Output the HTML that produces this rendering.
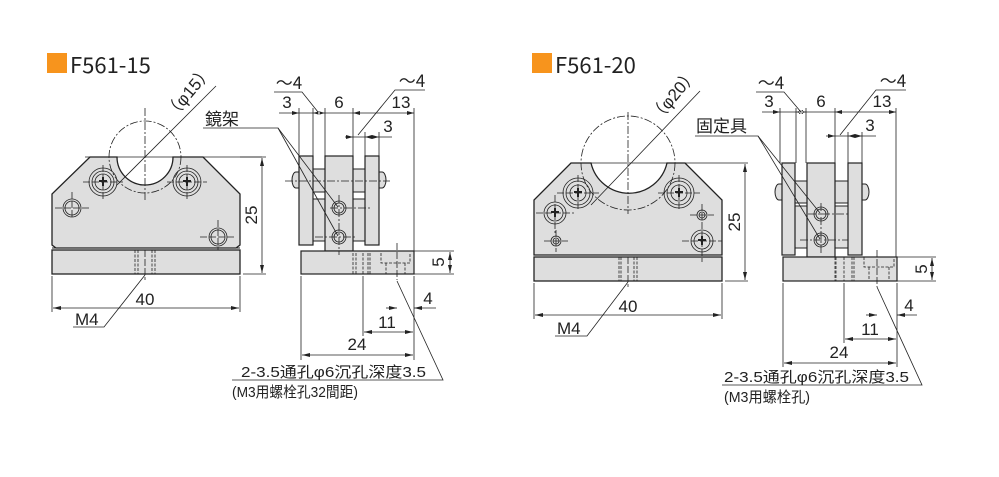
<!DOCTYPE html>
<html><head><meta charset="utf-8"><style>
html,body{margin:0;padding:0;background:#fff;}
svg{display:block;}
text{font-family:"Liberation Sans","Noto Sans CJK SC",sans-serif;fill:#222;}
.c{font-family:"Noto Sans CJK SC",sans-serif;}
</style></head><body>
<svg width="999" height="477" viewBox="0 0 999 477" xmlns="http://www.w3.org/2000/svg">
<defs>
<marker id="a" viewBox="0 0 8 4" refX="8" refY="2" markerWidth="8" markerHeight="4" markerUnits="userSpaceOnUse" orient="auto-start-reverse"><path d="M0,0L8,2L0,4z" fill="#222"/></marker>
</defs>
<g stroke="#222" stroke-width="1" fill="none">

<!-- ===== LEFT: F561-15 ===== -->
<rect x="47" y="53" width="20" height="20" fill="#f7941d" stroke="none"/>
<path d="M90,157 L117,157 A28,28 0 0 0 173,157 L203,157 L240,194 L240,245 L236,248 L56,248 L52,245 L52,194 Z" fill="#dedede" stroke-width="1.3"/>
<rect x="52" y="250" width="188" height="24" fill="#dedede" stroke-width="1.3"/>
<line x1="52" y1="248" x2="240" y2="248"/>
<circle cx="145" cy="157" r="36" stroke-dasharray="8,2,2,2" stroke-width="0.8"/>
<line x1="145" y1="108" x2="145" y2="202" stroke-dasharray="8,2,2,2" stroke-width="0.8"/>
<line x1="85" y1="157" x2="262" y2="157" stroke-width="0.8"/>
<g stroke-width="0.8">
<circle cx="103" cy="182" r="14"/><circle cx="103" cy="182" r="11"/><circle cx="103" cy="182" r="8"/>
<circle cx="187" cy="182" r="14"/><circle cx="187" cy="182" r="11"/><circle cx="187" cy="182" r="8"/>
<path d="M99,181h8M103,177v9M183,181h8M187,177v9" stroke-width="2"/>
<circle cx="72" cy="208" r="9"/><circle cx="72" cy="208" r="7"/>
<circle cx="218" cy="237" r="9"/><circle cx="218" cy="237" r="7"/>
<path d="M83,182h40M103,165v35M167,182h40M187,165v35M55,208h35M72,192v25M200,237h35M218,220v30" stroke-dasharray="7,2"/>
<path d="M135,250v24M138,250v24M152,250v24M155,250v24" stroke-dasharray="3,1.5"/>
<line x1="145" y1="250" x2="145" y2="280" stroke-dasharray="7,2"/>
</g>
<line x1="240" y1="157" x2="266" y2="157" stroke-width="0.8"/>
<line x1="243" y1="274" x2="266" y2="274" stroke-width="0.8"/>
<line x1="262" y1="158" x2="262" y2="273" marker-start="url(#a)" marker-end="url(#a)" stroke-width="0.8"/>
<line x1="52" y1="276" x2="52" y2="312" stroke-width="0.8"/>
<line x1="240" y1="276" x2="240" y2="312" stroke-width="0.8"/>
<line x1="53" y1="308" x2="239" y2="308" marker-start="url(#a)" marker-end="url(#a)" stroke-width="0.8"/>
<polyline points="145,275 104,327 73,327" stroke-width="0.8"/>
<line x1="117" y1="185" x2="216" y2="86" stroke-width="0.8"/>

<rect x="313" y="169" width="52" height="23" fill="#dedede" stroke-width="1"/>
<path d="M299,172 h-3 a4,8 0 0 0 0,16 h3 M379,172 h3 a4,8 0 0 1 0,16 h-3" fill="#dedede"/>
<rect x="313" y="199" width="52" height="42" fill="#dedede" stroke-width="1"/>
<rect x="299" y="156" width="14" height="89" fill="#dedede" stroke-width="1.2"/>
<rect x="325" y="156" width="28" height="95" fill="#dedede" stroke-width="1.2"/>
<rect x="365" y="156" width="14" height="89" fill="#dedede" stroke-width="1.2"/>
<rect x="301" y="251" width="113" height="23" fill="#dedede" stroke-width="1.2"/>
<g stroke-width="0.8">
<circle cx="339" cy="208" r="7"/><circle cx="339" cy="208" r="5"/>
<circle cx="339" cy="237" r="7"/><circle cx="339" cy="237" r="5"/>
<path d="M285,181h105M330,208h40M315,237h40M339,195v60" stroke-dasharray="8,2,2,2"/>
<path d="M353,253v21M356,253v21M363,253v21M368,253v21M370,253v21M381,253v10h29v-10M386,263v11M405,263v11" stroke-dasharray="3,1.5"/>
<line x1="397" y1="243" x2="397" y2="280" stroke-dasharray="7,2"/>
</g>
<g stroke-width="0.8">
<path d="M299,108v48M313,108v48M325,108v48M353,108v48M365,132v24M379,132v24M414,108v143"/>
<line x1="279" y1="113" x2="414" y2="113"/>
<path d="M299,113l-7,-2v4zM313,113l7,-2v4zM325,113l-7,-2v4zM353,113l7,-2v4zM414,113l-7,-2v4z" fill="#222" stroke="none"/>
<line x1="345" y1="137" x2="392" y2="137"/>
<path d="M353,137l-7,-2v4zM365,137l7,-2v4zM379,137l-7,-2v4z" fill="#222" stroke="none"/>
<polyline points="274,92 302,92 318,112"/>
<polyline points="425,90 395,90 358,135"/>
<polyline points="203,128 278,128 338,207"/>
<line x1="278" y1="128" x2="338" y2="236"/>
<line x1="414" y1="251" x2="454" y2="251"/><line x1="414" y1="274" x2="454" y2="274"/>
<line x1="450" y1="252" x2="450" y2="273" marker-start="url(#a)" marker-end="url(#a)"/>
<path d="M301,276v84M414,276v84M363,276v60"/>
<line x1="386" y1="308" x2="397" y2="308" marker-end="url(#a)"/>
<line x1="436" y1="308" x2="414" y2="308" marker-end="url(#a)"/>
<line x1="364" y1="332" x2="413" y2="332" marker-start="url(#a)" marker-end="url(#a)"/>
<line x1="302" y1="355" x2="413" y2="355" marker-start="url(#a)" marker-end="url(#a)"/>
<polyline points="397,281 443,380 232,380"/>
</g>

<!-- ===== RIGHT: F561-20 ===== -->
<rect x="532" y="53" width="20" height="20" fill="#f7941d" stroke="none"/>
<path d="M571,163 L591,163 A39,39 0 0 0 667,163 L685,163 L722,200 L722,255 L534,255 L534,200 Z" fill="#dedede" stroke-width="1.3"/>
<rect x="534" y="257" width="188" height="24" fill="#dedede" stroke-width="1.3"/>
<line x1="534" y1="255" x2="722" y2="255"/>
<circle cx="628" cy="163" r="47" stroke-dasharray="8,2,2,2" stroke-width="0.8"/>
<line x1="628" y1="112" x2="628" y2="214" stroke-dasharray="8,2,2,2" stroke-width="0.8"/>
<line x1="571" y1="163" x2="748" y2="163" stroke-width="0.8"/>
<g stroke-width="0.8">
<circle cx="578" cy="193" r="15"/><circle cx="578" cy="193" r="12"/><circle cx="578" cy="193" r="8"/>
<circle cx="679" cy="193" r="15"/><circle cx="679" cy="193" r="12"/><circle cx="679" cy="193" r="8"/>
<circle cx="555" cy="213" r="11"/><circle cx="555" cy="213" r="8"/>
<circle cx="702" cy="241" r="11"/><circle cx="702" cy="241" r="8"/>
<circle cx="556" cy="241" r="5"/><circle cx="556" cy="241" r="3"/>
<circle cx="702" cy="215" r="5"/><circle cx="702" cy="215" r="3"/>
<path d="M574,192h8M578,188v9M675,192h8M679,188v9M551,212h8M555,208v9M698,240h8M702,236v9" stroke-width="2"/>
<path d="M557,193h42M578,175v35M658,193h42M679,175v35M536,213h38M555,195v38M544,241h24M556,230v22M690,215h24M702,204v22M682,241h40M702,222v40" stroke-dasharray="7,2"/>
<path d="M619,257v24M621,257v24M634,257v24M637,257v24" stroke-dasharray="3,1.5"/>
<line x1="628" y1="257" x2="628" y2="287" stroke-dasharray="7,2"/>
</g>
<line x1="725" y1="281" x2="748" y2="281" stroke-width="0.8"/>
<line x1="745" y1="164" x2="745" y2="280" marker-start="url(#a)" marker-end="url(#a)" stroke-width="0.8"/>
<line x1="534" y1="283" x2="534" y2="319" stroke-width="0.8"/>
<line x1="722" y1="283" x2="722" y2="319" stroke-width="0.8"/>
<line x1="535" y1="315" x2="721" y2="315" marker-start="url(#a)" marker-end="url(#a)" stroke-width="0.8"/>
<polyline points="628,282 587,336 555,336" stroke-width="0.8"/>
<line x1="591" y1="205" x2="700" y2="91" stroke-width="0.8"/>

<rect x="795" y="181" width="53" height="22" fill="#dedede"/>
<path d="M782,184 h-3 a4,8 0 0 0 0,16 h3 M862,184 h3 a4,8 0 0 1 0,16 h-3" fill="#dedede"/>
<rect x="795" y="206" width="53" height="42" fill="#dedede"/>
<rect x="782" y="163" width="13" height="92" fill="#dedede" stroke-width="1.2"/>
<rect x="807" y="163" width="28" height="94" fill="#dedede" stroke-width="1.2"/>
<rect x="848" y="163" width="14" height="92" fill="#dedede" stroke-width="1.2"/>
<rect x="783" y="257" width="114" height="24" fill="#dedede" stroke-width="1.2"/>
<g stroke-width="0.8">
<circle cx="821" cy="214" r="7"/><circle cx="821" cy="214" r="5"/>
<circle cx="821" cy="240" r="7"/><circle cx="821" cy="240" r="5"/>
<path d="M808,214h40M800,240h48M821,203v50" stroke-dasharray="8,2,2,2"/>
<path d="M835,257v24M836,257v24M844,257v24M852,257v24M854,257v24M864,257v10h30v-10M869,267v14M889,267v14" stroke-dasharray="3,1.5"/>
<line x1="877" y1="250" x2="877" y2="287" stroke-dasharray="7,2"/>
<path d="M780,108v55M796,108v55M806,108v55M835,108v55M848,132v31M862,132v31M896,108v149"/>
<line x1="762" y1="112" x2="896" y2="112"/>
<path d="M780,112l-7,-2v4zM796,112l7,-2v4zM806,112l-7,-2v4zM835,112l7,-2v4zM896,112l-7,-2v4z" fill="#222" stroke="none"/>
<line x1="826" y1="136" x2="876" y2="136"/>
<path d="M835,136l-7,-2v4zM848,136l7,-2v4zM862,136l-7,-2v4z" fill="#222" stroke="none"/>
<polyline points="756,92 784,92 801,112"/>
<polyline points="906,90 876,90 840,135"/>
<polyline points="695,136 758,136 820,213"/>
<line x1="758" y1="136" x2="820" y2="239"/>
<line x1="897" y1="257" x2="936" y2="257"/><line x1="897" y1="281" x2="936" y2="281"/>
<line x1="932" y1="258" x2="932" y2="280" marker-start="url(#a)" marker-end="url(#a)"/>
<path d="M783,283v84M897,283v84M844,283v60"/>
<line x1="866" y1="315" x2="877" y2="315" marker-end="url(#a)"/>
<line x1="917" y1="315" x2="897" y2="315" marker-end="url(#a)"/>
<line x1="845" y1="339" x2="896" y2="339" marker-start="url(#a)" marker-end="url(#a)"/>
<line x1="784" y1="363" x2="896" y2="363" marker-start="url(#a)" marker-end="url(#a)"/>
<polyline points="877,287 922,385 722,385"/>
</g>
</g>

<g font-size="22" class="c"><text class="c" x="70" y="73">F561-15</text><text class="c" x="555" y="73">F561-20</text></g>
<g font-size="17">
<text x="193" y="96" transform="rotate(-50 193 96)" text-anchor="middle">（φ15）</text>
<text x="678" y="99" transform="rotate(-50 678 99)" text-anchor="middle">（φ20）</text>
<text x="145" y="305" text-anchor="middle">40</text>
<text x="628" y="312" text-anchor="middle">40</text>
<text x="75" y="325">M4</text>
<text x="557" y="334">M4</text>
<text x="257" y="215" transform="rotate(-90 257 215)" text-anchor="middle">25</text>
<text x="740" y="222" transform="rotate(-90 740 222)" text-anchor="middle">25</text>
<text x="444" y="262" transform="rotate(-90 444 262)" text-anchor="middle">5</text>
<text x="927" y="269" transform="rotate(-90 927 269)" text-anchor="middle">5</text>
<text x="287" y="108" text-anchor="middle">3</text>
<text x="339" y="108" text-anchor="middle">6</text>
<text x="401" y="108" text-anchor="middle">13</text>
<text x="388" y="132" text-anchor="middle">3</text>
<text class="c" x="289" y="89" text-anchor="middle">〜4</text>
<text class="c" x="412" y="87" text-anchor="middle">〜4</text>
<text x="428" y="304" text-anchor="middle">4</text>
<text x="387" y="328" text-anchor="middle">11</text>
<text x="357" y="350" text-anchor="middle">24</text>
<text x="769" y="107" text-anchor="middle">3</text>
<text x="821" y="107" text-anchor="middle">6</text>
<text x="882" y="107" text-anchor="middle">13</text>
<text x="870" y="131" text-anchor="middle">3</text>
<text class="c" x="771" y="89" text-anchor="middle">〜4</text>
<text class="c" x="893" y="87" text-anchor="middle">〜4</text>
<text x="909" y="311" text-anchor="middle">4</text>
<text x="870" y="335" text-anchor="middle">11</text>
<text x="839" y="358" text-anchor="middle">24</text>
<text class="c" x="205" y="125">鏡架</text>
<text class="c" x="696" y="132">固定具</text>
</g>
<g font-size="15">
<text x="241" y="377" textLength="185" lengthAdjust="spacingAndGlyphs">2-3.5通孔φ6沉孔深度3.5</text>
<text x="232" y="397" textLength="126" lengthAdjust="spacingAndGlyphs">(M3用螺栓孔32間距)</text>
<text x="724" y="382" textLength="185" lengthAdjust="spacingAndGlyphs">2-3.5通孔φ6沉孔深度3.5</text>
<text x="724" y="402" textLength="86" lengthAdjust="spacingAndGlyphs">(M3用螺栓孔)</text>
</g>
</svg>
</body></html>
